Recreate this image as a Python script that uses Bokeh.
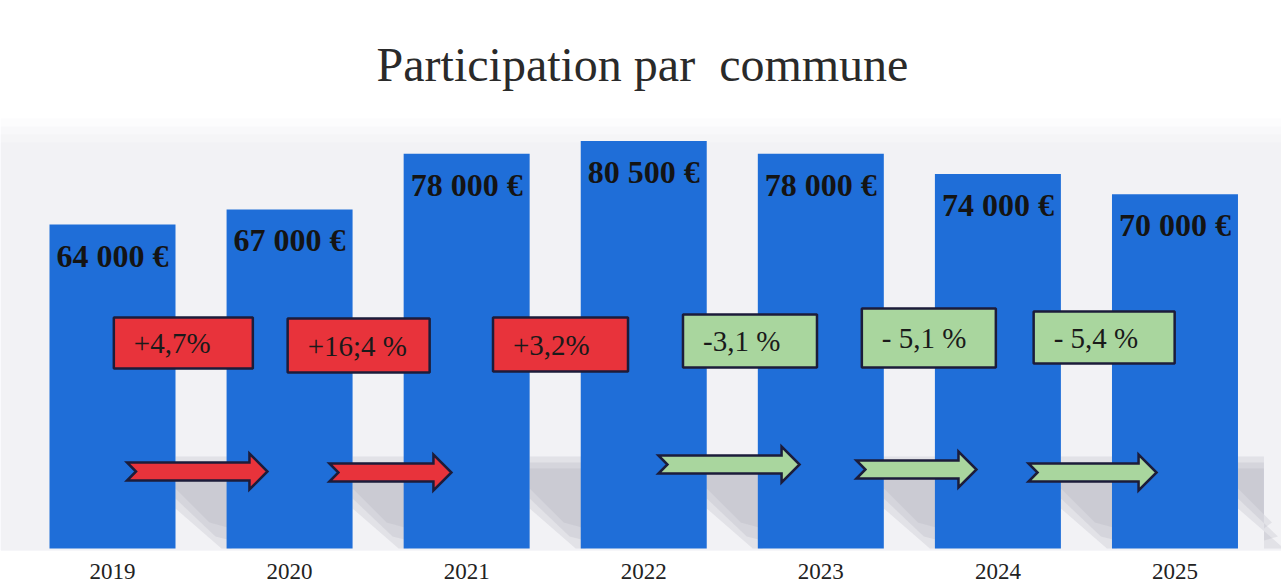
from bokeh.plotting import figure
from bokeh.models import Range1d
from bokeh.core.properties import value
from bokeh.embed import file_html
from bokeh.resources import INLINE

# ---------------- data ----------------
years = ["2019", "2020", "2021", "2022", "2023", "2024", "2025"]
amounts = [64000, 67000, 78000, 80500, 78000, 74000, 70000]
amount_labels = ["64 000 €", "67 000 €", "78 000 €", "80 500 €", "78 000 €", "74 000 €", "70 000 €"]
change_labels = ["+4,7%", "+16;4 %", "+3,2%", "-3,1 %", "- 5,1 %", "- 5,4 %"]
change_up = [True, True, True, False, False, False]
title_text = "Participation par \u00a0commune"

# ---------------- layout ----------------
W, H = 1281, 583
PX_PER_IDX = 177.08      # horizontal pixels per category step
IDX0_PX = 112.0          # pixel x of first category centre
UNITS_PER_PX = 197.6     # value units per vertical pixel
BASE_PX = 548.0          # pixel y (from top) of value 0

def fx(px):
    return (px - IDX0_PX) / PX_PER_IDX

def fy(py):
    return (BASE_PX - py) * UNITS_PER_PX

BAR_COLOR = "#1f6ed8"
RED = "#e8333b"
GREEN = "#a9d69e"
EDGE = "#1c1c3a"
SERIF = "Liberation Serif"

p = figure(width=W, height=H, x_range=Range1d(fx(0), fx(W)), y_range=Range1d(fy(H), fy(0)),
           output_backend="svg", toolbar_location=None, min_border=0,
           x_axis_location=None, y_axis_location=None)
p.grid.visible = False
p.outline_line_color = None
p.background_fill_color = "#ffffff"
p.border_fill_color = "#ffffff"

idx = list(range(len(years)))
bar_w = 0.7115

# faint backdrop of the slide area (soft top edge)
for top, alpha in [(118, 0.15), (126, 0.2), (134, 0.25), (142, 0.3)]:
    p.quad(left=fx(0), right=fx(W), bottom=fy(550), top=fy(top), fill_color="#ebebf1",
           fill_alpha=alpha, line_color=None)

# soft shadows to the right of each bar
for i in idx:
    r = IDX0_PX + PX_PER_IDX * (i + bar_w / 2)
    sw = 56 if i < len(idx) - 1 else 26
    layers = [
        ([(r, 456), (r + sw, 456), (r + sw, 548), (r + 46, 548), (r, 508)], 0.22),
        ([(r, 462), (r + sw, 462), (r + sw, 540), (r + 40, 536), (r, 498)], 0.22),
        ([(r, 468), (r + sw, 468), (r + sw, 528), (r + 34, 522), (r, 488)], 0.22),
    ]
    for pts, alpha in layers:
        p.patch([fx(a) for a, b in pts], [fy(b) for a, b in pts],
                fill_color="#a9a9b4", fill_alpha=alpha, line_color=None)

# bars
p.vbar(x=idx, top=amounts, bottom=0, width=bar_w, fill_color=BAR_COLOR, line_color=None)

# value labels inside bars
p.text(x=idx, y=[a - 31 * UNITS_PER_PX for a in amounts], text=amount_labels,
       text_align="center", text_baseline="middle",
       text_font=value(SERIF), text_font_style="bold", text_font_size="32px", text_color="#141414")

# year labels
p.text(x=idx, y=[fy(571)] * len(idx), text=years, text_align="center", text_baseline="middle",
       text_font=value(SERIF), text_font_size="23px", text_color="#222222")

# percentage boxes
box_dx = [-0.10, -0.11, 0.03, 0.10, 0.11, 0.10]
box_cy = [342.5, 345, 344, 340.5, 337.5, 337]
box_w = [139, 142, 135, 134, 134, 141]
box_h = [51, 54, 54, 53, 59, 52]
bx = [i + 0.5 + box_dx[i] for i in range(len(change_labels))]
by = [fy(c) for c in box_cy]
colors = [RED if u else GREEN for u in change_up]
p.rect(x=bx, y=by, width=box_w, height=box_h, width_units="screen", height_units="screen",
       fill_color=colors, line_color=EDGE, line_width=2.5)
tx = [bx[i] - (box_w[i] / 2 - 20) / PX_PER_IDX for i in range(len(change_labels))]
p.text(x=tx, y=by, text=change_labels, text_align="left", text_baseline="middle",
       text_font=value(SERIF), text_font_size="29px", text_color="#1a1a1a")

# arrows
arrow_tail = [0.082, 1.225, 3.083, 4.201, 5.173]
arrow_tip = [0.875, 1.914, 3.880, 4.879, 5.896]
arrow_cy = [471, 472, 464, 469, 472]
arrow_from = [0, 1, 3, 4, 5]
axs, ays, acol = [], [], []
for t0, t1, cy, k in zip(arrow_tail, arrow_tip, arrow_cy, arrow_from):
    x0 = IDX0_PX + t0 * PX_PER_IDX
    x1 = IDX0_PX + t1 * PX_PER_IDX
    xb = x1 - 18
    pts = [(x0, cy - 9), (xb, cy - 9), (xb, cy - 18), (x1, cy), (xb, cy + 18),
           (xb, cy + 9), (x0, cy + 9), (x0 + 9, cy)]
    axs.append([fx(a) for a, b in pts])
    ays.append([fy(b) for a, b in pts])
    acol.append(RED if change_up[k] else GREEN)
p.patches(axs, ays, fill_color=acol, line_color=EDGE, line_width=2.5, line_join="miter")

# title
p.text(x=[fx(642)], y=[fy(64)], text=[title_text], text_align="center",
       text_baseline="middle", text_font=value(SERIF), text_font_size="48px", text_color="#2a2a2a")

open("out.html", "w").write(file_html(p, INLINE))
